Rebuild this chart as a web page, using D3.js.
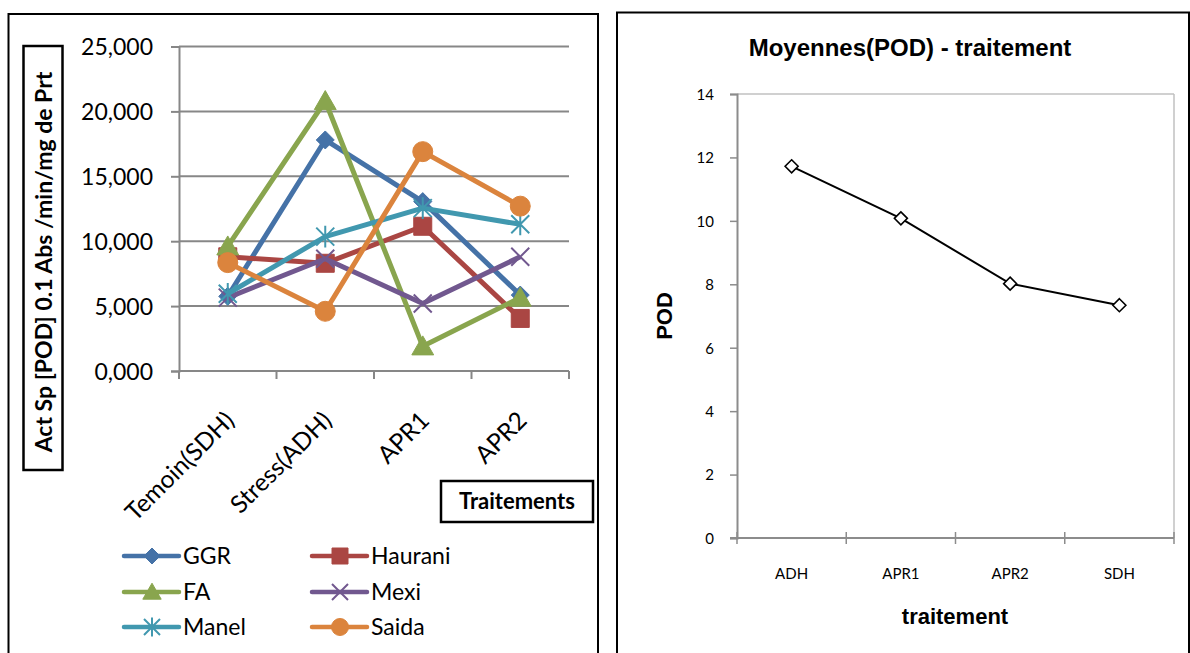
<!DOCTYPE html>
<html><head><meta charset="utf-8">
<script src="https://cdn.jsdelivr.net/npm/d3@7"></script>
<style>
html,body{margin:0;padding:0;background:#fff;}
svg{display:block;}
</style></head>
<body>
<svg id="c" width="1190" height="653"></svg>
<script>
// ---------- data ----------
const categories = ["Temoin(SDH)", "Stress(ADH)", "APR1", "APR2"];
const seriesNames = ["GGR", "Haurani", "FA", "Mexi", "Manel", "Saida"];
const GGR     = [5.75, 17.80, 13.05, 5.85];
const Haurani = [8.80, 8.30, 11.15, 4.05];
const FA      = [9.60, 20.80, 1.90, 5.65];
const Mexi    = [5.65, 8.65, 5.20, 8.80];
const Manel   = [5.95, 10.35, 12.55, 11.30];
const Saida   = [8.35, 4.60, 16.90, 12.70];
const leftTicks = [0, 5, 10, 15, 20, 25];
const seriesColors = ["#4572A7", "#AA4643", "#89A54E", "#71588F", "#4198AF", "#DB843D"];
const seriesMarkers = ["diamond", "square", "triangle", "x", "star", "circle"];

const rightCategories = ["ADH", "APR1", "APR2", "SDH"];
const rightValues = [11.72, 10.08, 8.02, 7.34];
const rightTicks = [0, 2, 4, 6, 8, 10, 12, 14];

const svg = d3.select("#c");
const frLocale = d3.formatLocale({decimal: ",", thousands: ".", grouping: [3], currency: ["", ""]});

// marker path generator
function markerPath(type, s) {
  const p = d3.path();
  if (type === "diamond") { p.moveTo(0,-s); p.lineTo(s,0); p.lineTo(0,s); p.lineTo(-s,0); p.closePath(); }
  else if (type === "square") { p.rect(-s,-s,2*s,2*s); }
  else if (type === "triangle") { p.moveTo(0,-s*1.1); p.lineTo(s*1.15,s*0.9); p.lineTo(-s*1.15,s*0.9); p.closePath(); }
  else if (type === "circle") { p.arc(0,0,s,0,2*Math.PI); }
  else if (type === "x") { p.moveTo(-s,-s); p.lineTo(s,s); p.moveTo(s,-s); p.lineTo(-s,s); }
  else if (type === "star") { p.moveTo(-s,-s); p.lineTo(s,s); p.moveTo(s,-s); p.lineTo(-s,s); p.moveTo(0,-s*1.2); p.lineTo(0,s*1.2); }
  return p.toString();
}
function drawMarker(g, type, color, s) {
  const open = (type === "x" || type === "star");
  g.append("path").attr("d", markerPath(type, s))
    .attr("fill", open ? "none" : color)
    .attr("stroke", color)
    .attr("stroke-width", open ? 2 : 1);
}

// ---------- LEFT CHART ----------
svg.append("rect").attr("x", 8.5).attr("y", 14).attr("width", 589.5).attr("height", 660)
  .attr("fill", "none").attr("stroke", "#000").attr("stroke-width", 2);

const xL = d3.scaleBand().domain(categories).range([179, 569]);
const yL = d3.scaleLinear().domain([0, 25]).range([371, 46.5]);
const gridCol = "#878787";
const L = svg.append("g");

// gridlines
L.append("g").selectAll("line").data(leftTicks.filter(d => d > 0)).join("line")
  .attr("x1", 179).attr("x2", 569)
  .attr("y1", d => yL(d)).attr("y2", d => yL(d))
  .attr("stroke", gridCol).attr("stroke-width", 2);

const yAxisL = L.append("g").attr("transform", "translate(179,0)")
  .call(d3.axisLeft(yL).tickValues(leftTicks).tickSize(8).tickFormat(frLocale.format(".3f")));
yAxisL.select(".domain").attr("stroke", gridCol).attr("stroke-width", 2);
yAxisL.selectAll(".tick line").attr("stroke", gridCol).attr("stroke-width", 2);
yAxisL.selectAll(".tick text").attr("font-family", "Lato").attr("font-size", 23).attr("fill", "#000").attr("x", -26).attr("dy", "0.36em");

// x axis baseline and ticks at band edges
L.append("line").attr("x1", 179).attr("x2", 569).attr("y1", 371).attr("y2", 371)
  .attr("stroke", gridCol).attr("stroke-width", 2);
const edges = categories.map(c => xL(c)).concat([xL.range()[1]]);
L.append("g").selectAll("line").data(edges).join("line")
  .attr("x1", d => d).attr("x2", d => d).attr("y1", 371).attr("y2", 379)
  .attr("stroke", gridCol).attr("stroke-width", 2);

// x labels rotated
L.append("g").selectAll("text").data(categories).join("text")
  .attr("transform", d => `translate(${xL(d) + xL.bandwidth()/2 + 2},${416}) rotate(-45)`)
  .attr("text-anchor", "end").attr("dy", "0.35em")
  .attr("font-family", "Lato").attr("font-size", 24.5).attr("fill", "#000")
  .text(d => d);

// series
const seriesData = [GGR, Haurani, FA, Mexi, Manel, Saida];
const line = d3.line().x((d, i) => xL(categories[i]) + xL.bandwidth()/2).y(d => yL(d));
seriesData.forEach((vals, si) => {
  const g = L.append("g");
  g.append("path").attr("d", line(vals)).attr("fill", "none")
    .attr("stroke", seriesColors[si]).attr("stroke-width", 5).attr("stroke-linejoin", "round");
  vals.forEach((v, i) => {
    const mg = g.append("g").attr("transform", `translate(${xL(categories[i]) + xL.bandwidth()/2},${yL(v)})`);
    const t = seriesMarkers[si];
    const s = t === "circle" ? 10 : t === "triangle" ? 9.5 : 9;
    drawMarker(mg, t, seriesColors[si], s);
  });
});

// y title box
svg.append("rect").attr("x", 23.5).attr("y", 46).attr("width", 39).attr("height", 424)
  .attr("fill", "#fff").attr("stroke", "#000").attr("stroke-width", 2.5);
svg.append("text").attr("transform", "translate(52,262) rotate(-90)")
  .attr("text-anchor", "middle").attr("font-family", "Lato").attr("font-weight", "bold")
  .attr("font-size", 23).attr("fill", "#000")
  .text("Act Sp [POD] 0.1 Abs /min/mg de Prt");

// x title box
svg.append("rect").attr("x", 441).attr("y", 481).attr("width", 152).attr("height", 41)
  .attr("fill", "#fff").attr("stroke", "#000").attr("stroke-width", 2.5);
svg.append("text").attr("x", 517).attr("y", 509).attr("text-anchor", "middle")
  .attr("font-family", "Lato").attr("font-weight", "bold").attr("font-size", 22).attr("fill", "#000")
  .text("Traitements");

// legend
const legPos = [[124, 556], [312, 556], [124, 592], [312, 592], [124, 627], [312, 627]];
seriesNames.forEach((n, i) => {
  const [lx, ly] = legPos[i];
  const g = svg.append("g").attr("transform", `translate(${lx},${ly})`);
  g.append("line").attr("x1", 0).attr("x2", 55).attr("y1", 0).attr("y2", 0)
    .attr("stroke", seriesColors[i]).attr("stroke-width", 4.5).attr("stroke-linecap", "round");
  const mg = g.append("g").attr("transform", "translate(28,0)");
  const t = seriesMarkers[i];
  drawMarker(mg, t, seriesColors[i], t === "circle" ? 8.5 : 8);
  g.append("text").attr("x", 59).attr("y", 0).attr("dy", "0.36em")
    .attr("font-family", "Lato").attr("font-size", 23).attr("fill", "#000").text(n);
});

// ---------- RIGHT CHART ----------
svg.append("rect").attr("x", 617).attr("y", 12.5).attr("width", 572).attr("height", 660)
  .attr("fill", "none").attr("stroke", "#000").attr("stroke-width", 2);

const xR = d3.scaleBand().domain(rightCategories).range([737, 1174]);
const yR = d3.scaleLinear().domain([0, 14]).range([538, 94]);
const R = svg.append("g");
const axCol = "#8c8c8c";

// plot area border (top/right)
R.append("line").attr("x1", 737).attr("x2", 1174).attr("y1", 94).attr("y2", 94).attr("stroke", "#c0c0c0").attr("stroke-width", 1.5);
R.append("line").attr("x1", 1174).attr("x2", 1174).attr("y1", 94).attr("y2", 538).attr("stroke", "#c0c0c0").attr("stroke-width", 1.5);

const yAxisR = R.append("g").attr("transform", "translate(737,0)")
  .call(d3.axisLeft(yR).tickValues(rightTicks).tickSize(7).tickFormat(d3.format("d")));
yAxisR.select(".domain").attr("stroke", axCol).attr("stroke-width", 2);
yAxisR.selectAll(".tick line").attr("stroke", axCol).attr("stroke-width", 1.5);
yAxisR.selectAll(".tick text").attr("font-family", "Lato").attr("font-size", 15).attr("fill", "#000").attr("x", -23).attr("dy", "0.36em");

R.append("line").attr("x1", 730).attr("x2", 1174).attr("y1", 538).attr("y2", 538).attr("stroke", axCol).attr("stroke-width", 2);
const edgesR = rightCategories.map(c => xR(c)).concat([xR.range()[1]]);
R.append("g").selectAll("line").data(edgesR).join("line")
  .attr("x1", d => d).attr("x2", d => d).attr("y1", 532).attr("y2", 544)
  .attr("stroke", axCol).attr("stroke-width", 1.5);
R.append("g").selectAll("text").data(rightCategories).join("text")
  .attr("x", d => xR(d) + xR.bandwidth()/2).attr("y", 574).attr("dy", "0.36em")
  .attr("text-anchor", "middle").attr("font-family", "Lato").attr("font-size", 15).attr("fill", "#000")
  .text(d => d);

const lineR = d3.line().x((d, i) => xR(rightCategories[i]) + xR.bandwidth()/2).y(d => yR(d));
R.append("path").attr("d", lineR(rightValues)).attr("fill", "none").attr("stroke", "#000").attr("stroke-width", 2);
rightValues.forEach((v, i) => {
  R.append("path").attr("d", markerPath("diamond", 6.5))
    .attr("transform", `translate(${xR(rightCategories[i]) + xR.bandwidth()/2},${yR(v)})`)
    .attr("fill", "#fff").attr("stroke", "#000").attr("stroke-width", 1.6);
});

svg.append("text").attr("x", 910).attr("y", 56).attr("text-anchor", "middle")
  .attr("font-family", "Liberation Sans, Arial").attr("font-weight", "bold").attr("font-size", 24).attr("fill", "#000")
  .text("Moyennes(POD) - traitement");
svg.append("text").attr("transform", "translate(672,316) rotate(-90)").attr("text-anchor", "middle")
  .attr("font-family", "Liberation Sans, Arial").attr("font-weight", "bold").attr("font-size", 22).attr("fill", "#000")
  .text("POD");
svg.append("text").attr("x", 955).attr("y", 624).attr("text-anchor", "middle")
  .attr("font-family", "Liberation Sans, Arial").attr("font-weight", "bold").attr("font-size", 22).attr("fill", "#000")
  .text("traitement");
</script>
</body></html>
